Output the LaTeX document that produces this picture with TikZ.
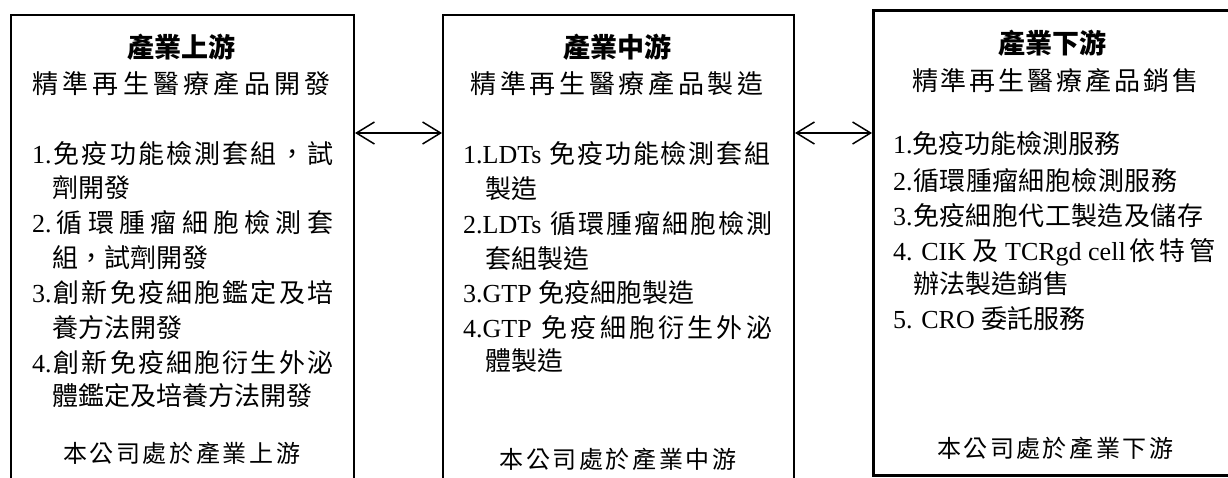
\documentclass[tikz,border=0pt]{standalone}
\usepackage{fontspec}
\setmainfont{Noto Sans CJK TC}
\newfontfamily\latinfont{Liberation Serif}
\usetikzlibrary{arrows.meta}

\newcommand\latn[1]{{\latinfont #1}}
\makeatletter
\newcommand\spreadline[3]{\makebox[#1][s]{#2\spread@rest#3\relax}}
\def\spread@rest#1{\ifx#1\relax\else\hfil#1\expandafter\spread@rest\fi}
\makeatother

\tikzset{
	box/.style={draw, line width=2pt, anchor=north west, inner sep=0pt},
	item/.style={inner sep=0pt, anchor=base west},
	head/.style={inner sep=0pt, anchor=base, font=\fontsize{27}{30}\selectfont\bfseries},
	sub/.style={inner sep=0pt, anchor=base},
	foot/.style={inner sep=0pt, anchor=base, font=\fontsize{24}{28}\selectfont},
}

\begin{document}
\begin{tikzpicture}[x=1pt,y=-1pt,font=\fontsize{26}{35}\selectfont,>={Straight Barb[length=18pt,width=22pt]}]
	\useasboundingbox (0,0) rectangle (1228,477);
	\clip (0,0) rectangle (1228,477);
	
	\begin{scope}
		\node[box, minimum width=343pt, minimum height=500pt] (up) at (10,14) {};
		\node[box, minimum width=351pt, minimum height=500pt] (mid) at (442,14) {};
		\node[box, line width=2.6pt, minimum width=380pt, minimum height=465pt] (down) at (872,9) {};
	\end{scope}
	
	\begin{scope}[line width=1.5pt]
		\coordinate (arrowrow) at (0,133);
		\draw[<->] (arrowrow -| up.east) -- (arrowrow -| mid.west);
		\draw[<->] (arrowrow -| mid.east) -- (arrowrow -| down.west);
	\end{scope}
	
	\node[head] (upT) at (181.5,57) {產業上游};
	\node[sub] (upS) at (181.5,93) {\spreadline{298pt}{精}{準再生醫療產品開發}};
	\node[item] (up1) at (32,163) {\spreadline{301pt}{\latn{1.}}{免疫功能檢測套組，試}};
	\node[item] (up1b) at (52,197) {劑開發};
	\node[item] (up2) at (32,232) {\spreadline{301pt}{\latn{2.}}{循環腫瘤細胞檢測套}};
	\node[item] (up2b) at (52,267) {組，試劑開發};
	\node[item] (up3) at (32,302) {\spreadline{301pt}{\latn{3.}}{創新免疫細胞鑑定及培}};
	\node[item] (up3b) at (52,337) {養方法開發};
	\node[item] (up4) at (32,372) {\spreadline{301pt}{\latn{4.}}{創新免疫細胞衍生外泌}};
	\node[item] (up4b) at (52,405) {體鑑定及培養方法開發};
	\node[foot] (upF) at (181.5,462) {\spreadline{237pt}{本}{公司處於產業上游}};
	
	\node[head] (midT) at (617.5,57) {產業中游};
	\node[sub] (midS) at (617,93) {\spreadline{293pt}{精}{準再生醫療產品製造}};
	\node[item] (mid1) at (463,163) {\spreadline{307pt}{\latn{1.LDTs }}{免疫功能檢測套組}};
	\node[item] (mid1b) at (485,198) {製造};
	\node[item] (mid2) at (463,233) {\spreadline{309pt}{\latn{2.LDTs }}{循環腫瘤細胞檢測}};
	\node[item] (mid2b) at (485,268) {套組製造};
	\node[item] (mid3) at (463,302) {\latn{3.GTP }免疫細胞製造};
	\node[item] (mid4) at (463,337) {\spreadline{309pt}{\latn{4.GTP }}{免疫細胞衍生外泌}};
	\node[item] (mid4b) at (485,370) {體製造};
	\node[foot] (midF) at (618,468) {\spreadline{237pt}{本}{公司處於產業中游}};
	
	\node[head] (downT) at (1052,53) {產業下游};
	\node[sub] (downS) at (1055,90) {\spreadline{286pt}{精}{準再生醫療產品銷售}};
	\node[item] (down1) at (893,153) {\latn{1.}免疫功能檢測服務};
	\node[item] (down2) at (893,190) {\spreadline{284pt}{\latn{2.}}{循環腫瘤細胞檢測服務}};
	\node[item] (down3) at (893,225) {\spreadline{310pt}{\latn{3.}}{免疫細胞代工製造及儲存}};
	\node[item] (down4) at (893,260) {\spreadline{322pt}{\latn{4. CIK }及\latn{ TCRgd cell}}{依特管}};
	\node[item] (down4b) at (913,293) {辦法製造銷售};
	\node[item] (down5) at (893,328) {\latn{5. CRO }委託服務};
	\node[foot] (downF) at (1055,457) {\spreadline{236pt}{本}{公司處於產業下游}};
\end{tikzpicture}
\end{document}
